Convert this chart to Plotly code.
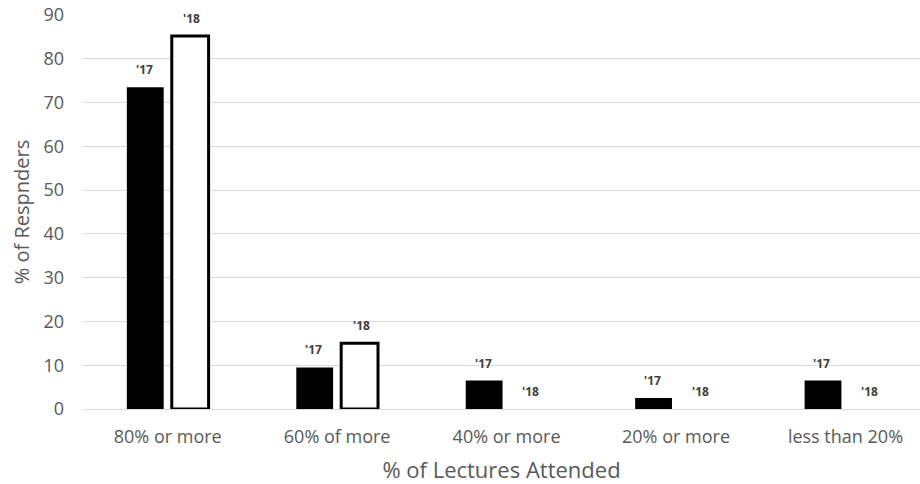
import plotly.graph_objects as go

categories = ["80% or more", "60% of more", "40% or more", "20% or more", "less than 20%"]
series_names = ["'17", "'18"]
values_17 = [73.5, 9.5, 6.5, 2.5, 6.5]
values_18 = [85.2, 15.0, 0, 0, 0]
y_ticks = [0, 10, 20, 30, 40, 50, 60, 70, 80, 90]

FONT = "Open Sans"
GRAY = "#595959"

fig = go.Figure()
fig.add_trace(go.Bar(x=categories, y=values_17, name=series_names[0],
                     marker=dict(color="black", line=dict(color="black", width=0))))
fig.add_trace(go.Bar(x=categories, y=values_18, name=series_names[1],
                     marker=dict(color="white",
                                 line=dict(color="black", width=[3 if v > 0 else 0 for v in values_18]))))

annotations = []
for vals, name, xs in [(values_17, series_names[0], -23.5), (values_18, series_names[1], 24)]:
    for c, v in zip(categories, vals):
        annotations.append(dict(x=c, y=v, xref="x", yref="y", text="<b>%s</b>" % name,
                                showarrow=False, xshift=xs, yshift=7, yanchor="bottom",
                                font=dict(family=FONT, size=12, color="#404040")))

fig.update_layout(
    width=920, height=484,
    margin=dict(l=83, r=0, t=15, b=75),
    plot_bgcolor="white", paper_bgcolor="white",
    barmode="group", bargap=0.47, bargroupgap=0.18,
    showlegend=False,
    annotations=annotations,
    font=dict(family=FONT, color=GRAY),
    xaxis=dict(range=[-0.5, 4.44], showgrid=False, showline=False, zeroline=False,
               tickfont=dict(size=18, color=GRAY), ticks="", ticklabelstandoff=15,
               title=dict(text="% of Lectures Attended", font=dict(size=22, color=GRAY), standoff=16)),
    yaxis=dict(range=[0, 90], tickvals=y_ticks, showgrid=True, gridcolor="#d9d9d9", gridwidth=1,
               zeroline=True, zerolinecolor="#d9d9d9", zerolinewidth=1, showline=False,
               tickfont=dict(size=18, color=GRAY), ticks="", ticklabelstandoff=18,
               title=dict(text="% of Respnders", font=dict(size=20, color=GRAY), standoff=8)),
)

fig.write_html("out.html", config={"displayModeBar": False},
               post_script="document.documentElement.style.overflow='hidden';"
                           "document.body.style.margin='0';document.body.style.overflow='hidden';")
